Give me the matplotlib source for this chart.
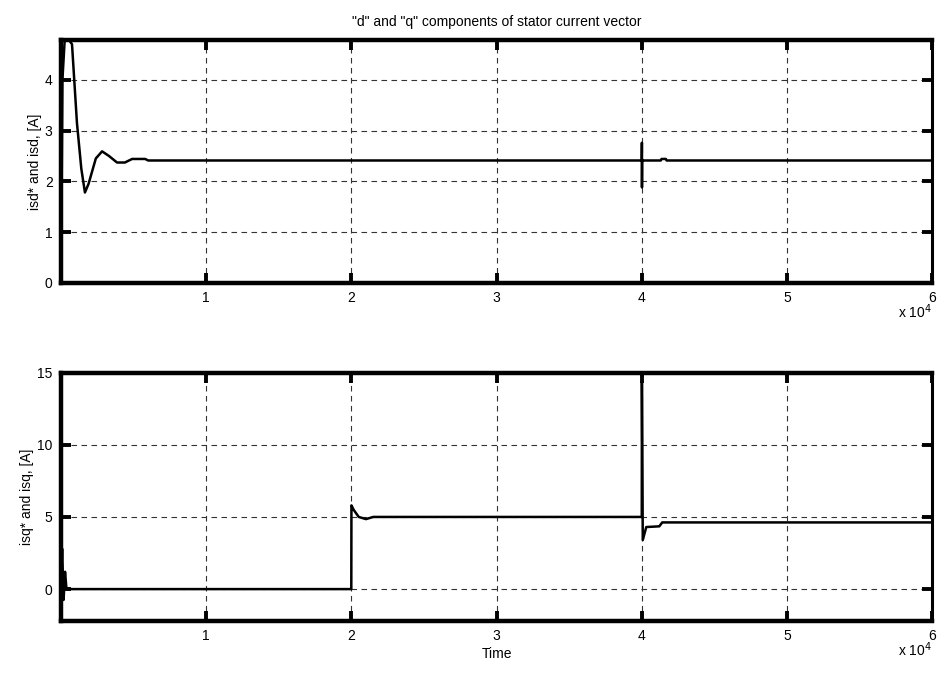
import matplotlib.pyplot as plt
from matplotlib import rcParams

rcParams.update({
    "font.family": ['Liberation Sans', 'DejaVu Sans'],
    "font.size": 10,
})

# d-axis current
t_d = [0, 100, 250, 500, 760, 1100, 1400, 1650, 1900, 2400, 2830, 3300, 3860,
       4400, 4900, 5800, 6000, 39990, 40000, 40005, 40015, 41300, 41350,
       41650, 41700, 60000]
isd = [0.0, 4.0, 4.75, 4.8, 4.7, 3.15, 2.25, 1.78, 1.95, 2.45, 2.59, 2.5, 2.37,
       2.37, 2.44, 2.44, 2.41, 2.41, 2.76, 1.88, 2.41, 2.41, 2.44,
       2.44, 2.41, 2.41]

# q-axis current
t_q = [0, 80, 180, 280, 380, 19990, 20000, 20150, 20500, 21000, 21500, 39990,
       40000, 40060, 40300, 41200, 41400, 60000]
isq = [0.0, 2.8, -0.75, 1.2, 0.0, 0.0, 5.8, 5.5, 5.0, 4.85, 5.0, 5.0,
       14.4, 3.4, 4.3, 4.35, 4.62, 4.62]

x_ticks = [10000, 20000, 30000, 40000, 50000, 60000]
x_ticklabels = ['1', '2', '3', '4', '5', '6']
yticks_d = [0, 1, 2, 3, 4]
yticks_q = [0, 5, 10, 15]

fig = plt.figure(figsize=(9.38, 6.8), dpi=100)
ax1 = fig.add_axes([0.065, 0.584, 0.929, 0.357])
ax2 = fig.add_axes([0.065, 0.087, 0.929, 0.365])


def style(ax, yticks):
    ax.set_xlim(0, 60000)
    ax.set_xticks(x_ticks)
    ax.set_xticklabels(x_ticklabels)
    ax.set_yticks(yticks)
    ax.grid(True, color='#333333', linestyle=(0, (5, 4)), linewidth=0.8)
    ax.tick_params(direction='in', length=7, width=2.8, top=True, right=True,
                   labelsize=10, pad=6)
    for side in ['left', 'top', 'bottom']:
        ax.spines[side].set_linewidth(3.2)
    ax.spines['right'].set_linewidth(2.2)
    # exponent label sits just under the last tick label
    ax.annotate(r'x 10$^{4}$', xy=(0.999, 0), xycoords='axes fraction',
                xytext=(0, -14), textcoords='offset points',
                ha='right', va='top', fontsize=10)


ax1.plot(t_d, isd, color='black', linewidth=1.8)
ax1.set_ylim(0, 4.78)
style(ax1, yticks_d)
ax1.set_ylabel('isd* and isd, [A]', labelpad=2)
ax1.set_title('"d" and "q" components of stator current vector', fontsize=10, pad=10)

ax2.plot(t_q, isq, color='black', linewidth=1.8)
ax2.set_ylim(-2.2, 15)
style(ax2, yticks_q)
ax2.set_ylabel('isq* and isq, [A]', labelpad=2)
ax2.set_xlabel('Time', labelpad=3)

plt.savefig('out.png', dpi=100)
